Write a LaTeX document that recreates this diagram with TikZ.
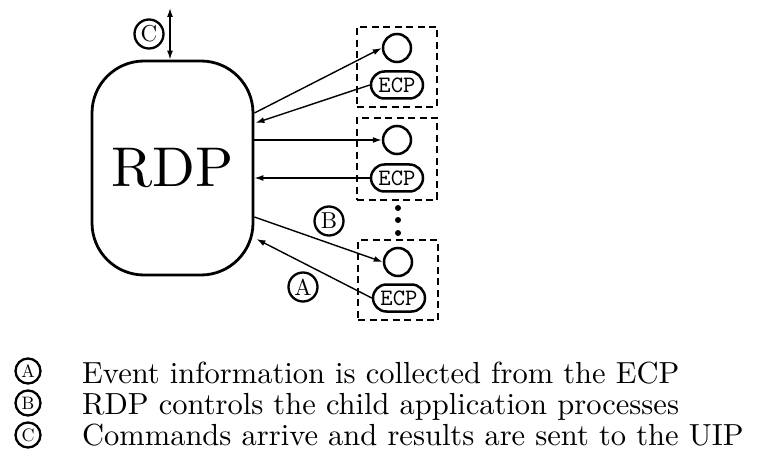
\documentclass[tikz,border=0pt]{standalone}
\usetikzlibrary{arrows.meta,calc,shapes.misc}
\begin{document}
\begin{tikzpicture}[x=1pt,y=-1pt,
  tip/.tip={Latex[length=9pt,width=6pt]},
  conn/.style={line width=1.4pt,-tip},
  proc/.style={draw,line width=2.8pt,rounded corners=52pt,minimum width=161pt,minimum height=214pt,inner sep=0pt},
  group/.style={draw,line width=2.8pt,dash pattern=on 7pt off 4.5pt,minimum width=80pt,inner sep=0pt},
  app/.style={draw,circle,line width=2.5pt,minimum size=28pt,inner sep=0pt},
  ecp/.style={draw,rounded rectangle,line width=2.5pt,minimum width=52pt,minimum height=27pt,inner sep=0pt},
  tag/.style={draw,circle,line width=2.3pt,minimum size=29pt,inner sep=0pt},
  key/.style={draw,circle,line width=2.3pt,minimum size=25pt,inner sep=0pt},
  line/.style={anchor=base west,inner sep=0pt},
  dot/.style={circle,fill,minimum size=6pt,inner sep=0pt}
]
\useasboundingbox (0,0) rectangle (757,465);

% central process
\node[proc] (rdp) at (172.5,168) {\scalebox{5.6}{RDP}};

% child application groups
\node[group,minimum height=80pt] (b1) at (397,67) {};
\node[group,minimum height=82pt] (b2) at (397,159) {};
\node[group,minimum height=80pt] (b3) at (398,280) {};

\node[app] (c1) at (397,48) {};
\node[ecp] (e1) at (397,85) {\scalebox{2.35}{\ttfamily ECP}};
\node[app] (c2) at (397,140) {};
\node[ecp] (e2) at (397,178) {\scalebox{2.35}{\ttfamily ECP}};
\node[app] (c3) at (398,262) {};
\node[ecp] (e3) at (399,298) {\scalebox{2.35}{\ttfamily ECP}};

% ellipsis between the groups
\node[dot] (d1) at (398,208) {};
\node[dot] (d2) at (398,220) {};
\node[dot] (d3) at (398,233) {};

% connections
\draw[conn] ($(rdp.east)+(0,-55)$) -- (c1.west);
\draw[conn] (e1.west) -- ($(rdp.east)+(1,-45)$);
\draw[conn] ($(rdp.east)+(0,-28)$) -- (c2.west);
\draw[conn] (e2.west) -- ($(rdp.east)+(0,10)$);
\draw[conn] ($(rdp.east)+(0,49)$) -- (c3.west);
\draw[conn] (e3.west) -- ($(rdp.east)+(2,71)$);

% command channel to the UIP
\coordinate (uip) at (170,8);
\draw[line width=1.4pt,tip-tip] (uip) -- (rdp.north -| uip);

% flow tags
\node[tag] (tc) at (149,34) {\scalebox{2.3}{C}};
\node[tag] (tb) at (329,221) {\scalebox{2.3}{B}};
\node[tag] (ta) at (303,287) {\scalebox{2.3}{A}};

% legend
\node[key] (ka) at (28,371) {\scalebox{1.8}{A}};
\node[key] (kb) at (28,403) {\scalebox{1.8}{B}};
\node[key] (kc) at (28,435) {\scalebox{1.8}{C}};
\node[line] (la) at (82,383) {\scalebox{3.05}{Event information is collected from the ECP}};
\node[line] (lb) at (82,414) {\scalebox{3.05}{RDP controls the child application processes}};
\node[line] (lc) at (82,445) {\scalebox{3.05}{Commands arrive and results are sent to the UIP}};
\end{tikzpicture}
\end{document}
